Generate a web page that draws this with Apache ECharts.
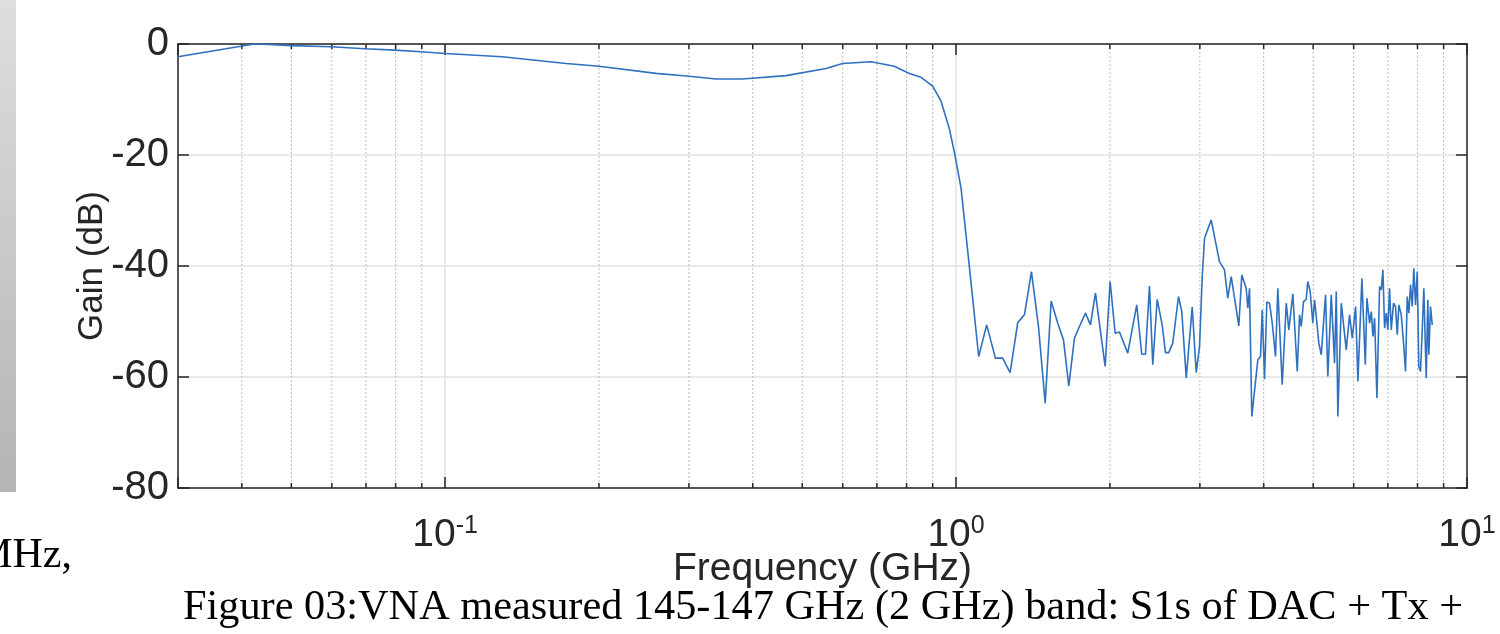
<!DOCTYPE html>
<html>
<head>
<meta charset="utf-8">
<script src="https://cdn.jsdelivr.net/npm/echarts@6/dist/echarts.min.js"></script>
<style>
html,body{margin:0;padding:0;background:#fff;}
#chart{width:1500px;height:634px;}
</style>
</head>
<body>
<div id="chart"></div>
<script>
// Frequency (GHz) and measured gain (dB)
const freqGHz = [
  0.030, 0.0423, 0.0452, 0.050, 0.0598, 0.0697, 0.0798, 0.0897, 0.100, 0.1293,
  0.1725, 0.2001, 0.2586, 0.3005, 0.3389, 0.3820, 0.4647, 0.5563, 0.5998, 0.6819,
  0.7571, 0.8102, 0.8542, 0.8998, 0.9346, 0.9703, 0.9924, 1.0228, 1.0617, 1.1074,
  1.1478, 1.1940, 1.2336, 1.2757, 1.3204, 1.3608, 1.4045, 1.4497, 1.4942, 1.5350,
  1.5813, 1.6226, 1.6619, 1.7049, 1.7438, 1.7916, 1.8323, 1.8741, 1.9577, 2.0023,
  2.0480, 2.0884, 2.1677, 2.2574, 2.3089, 2.3480, 2.3906, 2.4266, 2.4752, 2.5317,
  2.5693, 2.6081, 2.6554, 2.7248, 2.7654, 2.8213, 2.8985, 2.9512, 2.9957, 3.0324,
  3.0640, 3.1571, 3.2776, 3.3524, 3.4023, 3.4552, 3.5758, 3.6243, 3.6968, 3.7241,
  3.7525, 3.7916, 3.8960, 3.9429, 3.9739, 4.0153, 4.0572, 4.1069, 4.1573, 4.2192,
  4.2632, 4.3485, 4.4284, 4.4797, 4.5619, 4.6532, 4.7017, 4.7376, 4.7863, 4.8450,
  4.8797, 4.9328, 4.9911, 5.0304, 5.0689, 5.1286, 5.1845, 5.2858, 5.3410, 5.4241,
  5.5047, 5.5480, 5.5877, 5.6747, 5.8030, 5.8905, 5.9628, 6.0529, 6.1160, 6.2270,
  6.3240, 6.3693, 6.4475, 6.4968, 6.5449, 6.5948, 6.6635, 6.7438, 6.7967, 6.8454,
  6.8976, 6.9502, 6.9999, 7.0533, 7.1071, 7.1812, 7.2460, 7.3030, 7.3553, 7.4355,
  7.5130, 7.5808, 7.6386, 7.6950, 7.7537, 7.8128, 7.8688, 7.9306, 7.9912, 8.0485,
  8.1099, 8.1736, 8.2322, 8.3217, 8.3813, 8.4200, 8.4842, 8.5507
];
const gainDB = [
  -2.3, 0.0, -0.1, -0.3, -0.5, -0.85, -1.1, -1.4, -1.7, -2.3,
  -3.5, -4.0, -5.3, -5.8, -6.3, -6.3, -5.7, -4.4, -3.5, -3.2,
  -4.0, -5.3, -6.0, -7.6, -10.3, -15.3, -19.5, -26.0, -40.1, -56.3,
  -50.6, -56.6, -56.6, -59.2, -50.2, -48.8, -41.0, -50.9, -64.7, -46.3,
  -50.3, -53.3, -61.6, -53.0, -50.9, -48.5, -50.6, -44.9, -58.1, -42.8,
  -52.1, -51.9, -55.7, -47.0, -55.9, -55.9, -43.6, -57.8, -46.0, -50.6,
  -55.6, -55.6, -53.9, -45.5, -48.2, -60.2, -47.4, -59.2, -54.5, -41.9,
  -35.0, -31.7, -39.2, -40.7, -45.8, -41.9, -50.8, -41.6, -44.0, -47.6,
  -44.0, -67.1, -56.9, -56.3, -47.9, -60.4, -46.5, -46.7, -50.3, -56.3,
  -44.0, -61.4, -46.7, -51.5, -45.0, -59.0, -48.8, -50.9, -46.4, -46.0,
  -42.8, -44.6, -50.3, -46.1, -49.1, -53.9, -56.0, -45.2, -59.9, -45.2,
  -57.5, -44.6, -67.1, -46.7, -55.1, -48.8, -53.0, -47.3, -60.8, -42.2,
  -57.8, -45.8, -50.3, -48.2, -52.7, -49.4, -63.8, -43.7, -44.3, -40.7,
  -51.2, -48.5, -51.5, -44.0, -51.5, -46.7, -47.3, -52.4, -47.0, -48.8,
  -53.9, -59.0, -45.5, -48.5, -43.4, -47.3, -40.4, -47.0, -41.0, -58.1,
  -59.0, -51.5, -44.0, -60.2, -46.1, -56.0, -47.3, -50.6
];
// Minor log-decade positions (GHz) for dotted grid lines and small ticks
const minorTicksGHz = [0.04, 0.05, 0.06, 0.07, 0.08, 0.09,
  0.2, 0.3, 0.4, 0.5, 0.6, 0.7, 0.8, 0.9,
  2, 3, 4, 5, 6, 7, 8, 9];
const xRange = [0.03, 10];
const yTicks = [-80, -60, -40, -20, 0];

const lineData = freqGHz.map((f, i) => [f, gainDB[i]]);
const minorData = minorTicksGHz.map(f => [f, -40]);

const axisColor = '#262626';
const sans = '"Liberation Sans", Arial, Helvetica, sans-serif';
const serif = '"Liberation Serif", "Times New Roman", serif';

const chart = echarts.init(document.getElementById('chart'), null, {renderer: 'canvas'});

function powLabel(v) {
  const l = Math.log10(v);
  const e = Math.round(l);
  if (Math.abs(l - e) > 1e-6) return '';
  return '{b|10}{s|' + e + '}';
}

chart.setOption({
  animation: false,
  backgroundColor: '#ffffff',
  grid: {left: 178, top: 44, width: 1289, height: 444, containLabel: false},
  xAxis: [
    {
      type: 'log', logBase: 10, min: xRange[0], max: xRange[1], position: 'bottom',
      name: 'Frequency (GHz)', nameLocation: 'middle', nameGap: 62,
      nameMoveOverlap: false,
      nameTextStyle: {fontFamily: sans, fontSize: 39, color: axisColor},
      axisLine: {show: true, onZero: false, lineStyle: {color: axisColor, width: 1.5}},
      axisTick: {show: true, inside: true, length: 11, lineStyle: {color: axisColor, width: 1.5}},
      splitLine: {show: true, lineStyle: {color: '#e2e2e2', width: 1.5}},
      axisLabel: {
        show: true, margin: 26, formatter: powLabel, color: axisColor,
        rich: {
          b: {fontFamily: sans, fontSize: 39, color: axisColor, lineHeight: 42},
          s: {fontFamily: sans, fontSize: 25, color: axisColor, verticalAlign: 'top', lineHeight: 26}
        }
      }
    },
    {
      type: 'log', logBase: 10, min: xRange[0], max: xRange[1], position: 'top',
      axisLine: {show: true, onZero: false, lineStyle: {color: axisColor, width: 1.5}},
      axisTick: {show: true, inside: true, length: 11, lineStyle: {color: axisColor, width: 1.5}},
      splitLine: {show: false},
      axisLabel: {show: false}
    }
  ],
  yAxis: [
    {
      type: 'value', min: -80, max: 0, interval: 20, position: 'left',
      name: 'Gain (dB)', nameLocation: 'middle', nameGap: 68, nameRotate: 90,
      nameMoveOverlap: false,
      nameTextStyle: {fontFamily: sans, fontSize: 35, color: axisColor},
      axisLine: {show: true, onZero: false, lineStyle: {color: axisColor, width: 1.5}},
      axisTick: {show: true, inside: true, length: 11, lineStyle: {color: axisColor, width: 1.5}},
      splitLine: {show: true, lineStyle: {color: '#e2e2e2', width: 1.5}},
      axisLabel: {show: true, margin: 9, fontFamily: sans, fontSize: 40, color: axisColor,
        formatter: v => yTicks.indexOf(v) >= 0 ? String(v) : ''}
    },
    {
      type: 'value', min: -80, max: 0, interval: 20, position: 'right',
      axisLine: {show: true, onZero: false, lineStyle: {color: axisColor, width: 1.5}},
      axisTick: {show: true, inside: true, length: 11, lineStyle: {color: axisColor, width: 1.5}},
      splitLine: {show: false},
      axisLabel: {show: false}
    }
  ],
  series: [
    {
      type: 'custom', xAxisIndex: 0, yAxisIndex: 0, z: 1, silent: true,
      data: minorData,
      renderItem: function (params, api) {
        const x = api.coord([api.value(0), api.value(1)])[0];
        const cs = params.coordSys;
        const top = cs.y, bottom = cs.y + cs.height;
        return {
          type: 'group',
          children: [
            {type: 'line', shape: {x1: x, y1: top, x2: x, y2: bottom},
             style: {stroke: '#bdbdbd', lineWidth: 1, lineDash: [2, 2]}},
            {type: 'line', shape: {x1: x, y1: top, x2: x, y2: top + 5},
             style: {stroke: axisColor, lineWidth: 1.5}},
            {type: 'line', shape: {x1: x, y1: bottom, x2: x, y2: bottom - 5},
             style: {stroke: axisColor, lineWidth: 1.5}}
          ]
        };
      }
    },
    {
      type: 'line', xAxisIndex: 0, yAxisIndex: 0, z: 5,
      data: lineData, showSymbol: false, smooth: false,
      lineStyle: {color: '#2f70bf', width: 1.6},
      itemStyle: {color: '#2f70bf'}
    }
  ],
  graphic: [
    {
      type: 'rect', left: 0, top: 0, silent: true, z: -1,
      shape: {x: 0, y: 0, width: 16, height: 492},
      style: {fill: new echarts.graphic.LinearGradient(0, 0, 0, 1, [
        {offset: 0, color: '#dedede'}, {offset: 1, color: '#b4b4b4'}])}
    },
    {
      type: 'text', x: 72, y: 556, silent: true,
      style: {text: 'MHz,', font: '42px ' + serif, fill: '#000', textAlign: 'right', textVerticalAlign: 'middle'}
    },
    {
      type: 'text', x: 183, y: 608, silent: true,
      style: {text: 'Figure 03:VNA measured 145-147 GHz (2 GHz) band: S1s of DAC + Tx +',
        font: '42.3px ' + serif, fill: '#000', textAlign: 'left', textVerticalAlign: 'middle'}
    }
  ]
});
</script>
</body>
</html>
